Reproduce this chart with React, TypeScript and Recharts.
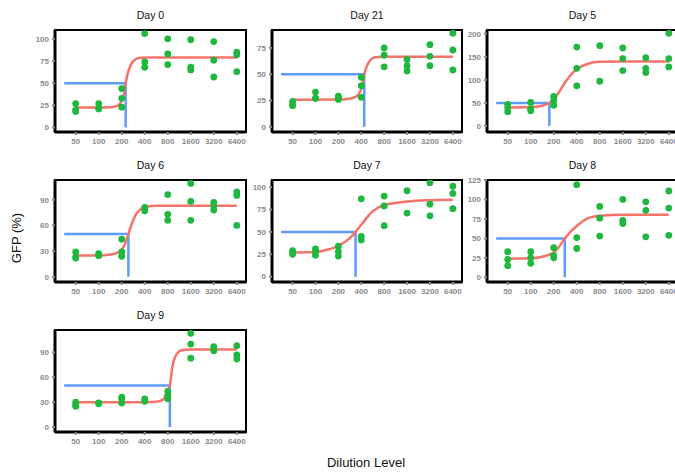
import { ComposedChart, Scatter, Line, XAxis, YAxis, ReferenceArea } from 'recharts'

// dilution levels, plotted at evenly spaced positions 0..7
const dilutions = ['50', '100', '200', '400', '800', '1600', '3200', '6400']

// replicate GFP readings per dilution level
const day0Obs = [[27, 20, 18], [27, 22, 21], [44, 33, 23], [106, 74, 68], [100, 83, 71], [99, 68, 65], [97, 76, 57], [85, 82, 63]]
const day21Obs = [[24, 21, 20], [33, 27, 27], [29, 28, 26], [47, 39, 28], [75, 68, 57], [64, 58, 53], [78, 67, 58], [89, 73, 54]]
const day5Obs = [[47, 40, 31], [51, 37, 33], [64, 56, 45], [171, 125, 87], [174, 97], [169, 146, 120], [148, 125, 116], [201, 146, 128]]
const day6Obs = [[29, 23, 22], [27, 25, 25], [44, 29, 24], [81, 77], [96, 73, 66], [109, 88, 66], [87, 83, 78], [99, 95, 60]]
const day7Obs = [[29, 27, 25], [31, 28, 24], [34, 28, 23], [87, 45, 41], [90, 79, 57], [96, 71], [105, 81, 68], [101, 93, 76]]
const day8Obs = [[33, 23, 15], [33, 25, 18], [38, 28, 25], [119, 51, 37], [91, 76, 53], [100, 73, 69], [97, 86, 52], [111, 89, 54]]
const day9Obs = [[30, 26, 25], [29, 28], [36, 34, 29], [34, 31], [43, 38, 34], [113, 100, 83], [97, 94, 92], [98, 87, 82]]

// fitted curves as [position, GFP]
const day0Fit = [[0, 22.5], [1, 22.6], [1.5, 23], [1.8, 24.5], [2, 30], [2.1, 38], [2.17, 50], [2.25, 60], [2.4, 71], [2.6, 77], [2.8, 78.7], [3.2, 79], [5, 79], [7, 79]]
const day21Fit = [[0, 25.6], [2, 25.8], [2.6, 27], [2.85, 30], [3, 36], [3.13, 50], [3.25, 58], [3.4, 63.5], [3.6, 66], [4, 66.5], [7, 66.5]]
const day5Fit = [[0, 40], [1, 41], [1.5, 44], [1.81, 50], [2, 58], [2.25, 75], [2.5, 95], [2.75, 111], [3, 123], [3.5, 135], [4, 139], [5, 140], [7, 140]]
const day6Fit = [[0, 25], [1, 25], [1.5, 26], [1.8, 28], [2, 32], [2.15, 39], [2.29, 50], [2.45, 63], [2.6, 72], [2.8, 78.5], [3, 81.5], [3.5, 83], [7, 83]]
const day7Fit = [[0, 27], [1, 27.5], [1.5, 30], [2, 34.5], [2.5, 43], [2.75, 50], [3, 58], [3.5, 73], [4, 80], [5, 84], [6, 85.5], [7, 86]]
const day8Fit = [[0, 24], [1, 24.4], [1.5, 26.5], [2, 32], [2.25, 40], [2.48, 50], [2.75, 59], [3, 66], [3.5, 76], [4, 79], [5, 80.5], [7, 80.5]]
const day9Fit = [[0, 30], [3, 30], [3.5, 30.5], [3.8, 33], [4, 44], [4.09, 50], [4.2, 72], [4.35, 86], [4.6, 92.5], [5, 93.5], [7, 93.5]]

// 50% crossing positions (blue guide)
const ec50 = { day0: 2.17, day21: 3.13, day5: 1.81, day6: 2.29, day7: 2.75, day8: 2.48, day9: 4.09 }

const X_DOMAIN: [number, number] = [-0.9, 7.4]
const BOX_H = 102
const PAD_TOP = 8

const panels = [
  { title: 'Day 0', obs: day0Obs, fit: day0Fit, ec50: ec50.day0, yDomain: [-5, 110], yTicks: [0, 25, 50, 75, 100], left: 55, top: 30, width: 191 },
  { title: 'Day 21', obs: day21Obs, fit: day21Fit, ec50: ec50.day21, yDomain: [-5, 92], yTicks: [0, 25, 50, 75], left: 272, top: 30, width: 190 },
  { title: 'Day 5', obs: day5Obs, fit: day5Fit, ec50: ec50.day5, yDomain: [-13, 208], yTicks: [0, 50, 100, 150, 200], left: 487, top: 30, width: 191 },
  { title: 'Day 6', obs: day6Obs, fit: day6Fit, ec50: ec50.day6, yDomain: [-6, 113], yTicks: [0, 30, 60, 90], left: 55, top: 180, width: 191 },
  { title: 'Day 7', obs: day7Obs, fit: day7Fit, ec50: ec50.day7, yDomain: [-6, 108], yTicks: [0, 25, 50, 75, 100], left: 272, top: 180, width: 190 },
  { title: 'Day 8', obs: day8Obs, fit: day8Fit, ec50: ec50.day8, yDomain: [-6, 125], yTicks: [0, 25, 50, 75, 100, 125], left: 487, top: 180, width: 191 },
  { title: 'Day 9', obs: day9Obs, fit: day9Fit, ec50: ec50.day9, yDomain: [-6, 117], yTicks: [0, 30, 60, 90], left: 55, top: 330, width: 191 },
]

const FONT = '"Liberation Sans", Arial, sans-serif'
const tickStyle = { fill: '#8a8a8a', fontSize: 8, fontWeight: 700, fontFamily: FONT }

function DosePanel({ p }: { p: (typeof panels)[number] }) {
  const points = p.obs.flatMap((reps, i) => reps.map((v) => ({ x: i, y: v })))
  const fit = p.fit.map(([x, y]) => ({ x, y }))
  const guide = [{ x: -0.5, y: 50 }, { x: p.ec50, y: 50 }, { x: p.ec50, y: 0 }]
  const w = 32 + p.width + 4
  const h = PAD_TOP + BOX_H + 22

  return (
    <>
      <div style={{
        position: 'absolute', left: p.left, top: p.top - 24, width: p.width, height: 18,
        lineHeight: '18px', textAlign: 'center', fontFamily: FONT, fontSize: 10.5, color: '#111',
      }}>
        {p.title}
      </div>
      <div style={{ position: 'absolute', left: p.left - 32, top: p.top - PAD_TOP }}>
        <ComposedChart width={w} height={h} margin={{ top: PAD_TOP, right: 4, left: 2, bottom: 0 }}>
          <XAxis
            type="number" dataKey="x" domain={X_DOMAIN} allowDataOverflow
            ticks={[0, 1, 2, 3, 4, 5, 6, 7]} tickFormatter={(v) => dilutions[v]}
            interval={0} height={22} tick={tickStyle} tickSize={3} tickMargin={3}
            tickLine={{ stroke: '#8a8a8a', strokeWidth: 2 }}
            axisLine={{ stroke: '#000', strokeWidth: 3 }}
          />
          <YAxis
            type="number" dataKey="y" domain={p.yDomain} allowDataOverflow
            ticks={p.yTicks} interval={0} width={30} tick={tickStyle} tickSize={3} tickMargin={3}
            tickLine={{ stroke: '#8a8a8a', strokeWidth: 2 }}
            axisLine={{ stroke: '#000', strokeWidth: 3 }}
          />
          <ReferenceArea
            x1={X_DOMAIN[0]} x2={X_DOMAIN[1]} y1={p.yDomain[0]} y2={p.yDomain[1]}
            fill="none" stroke="#000" strokeWidth={2} ifOverflow="visible"
          />
          <Line data={guide} dataKey="y" type="linear" stroke="#5e9cf7" strokeWidth={2.5}
            dot={false} isAnimationActive={false} />
          <Line data={fit} dataKey="y" type="monotone" stroke="#f5736b" strokeWidth={2.5}
            dot={false} isAnimationActive={false} />
          <Scatter data={points} isAnimationActive={false}
            shape={(s: any) => <circle cx={s.cx} cy={s.cy} r={3.4} fill="#1db83d" />} />
        </ComposedChart>
      </div>
    </>
  )
}

export default function App() {
  return (
    <div style={{ position: 'absolute', left: 0, top: 0, width: 675, height: 476, overflow: 'hidden', background: '#fff' }}>
      {panels.map((p) => <DosePanel key={p.title} p={p} />)}
      <div style={{
        position: 'absolute', left: 17 - 40, top: 238 - 9, width: 80, height: 18, lineHeight: '18px',
        textAlign: 'center', transform: 'rotate(-90deg)', fontFamily: FONT, fontSize: 13, color: '#111',
      }}>
        GFP (%)
      </div>
      <div style={{
        position: 'absolute', left: 366 - 80, top: 463 - 9, width: 160, height: 18, lineHeight: '18px',
        textAlign: 'center', fontFamily: FONT, fontSize: 13, color: '#111',
      }}>
        Dilution Level
      </div>
    </div>
  )
}
